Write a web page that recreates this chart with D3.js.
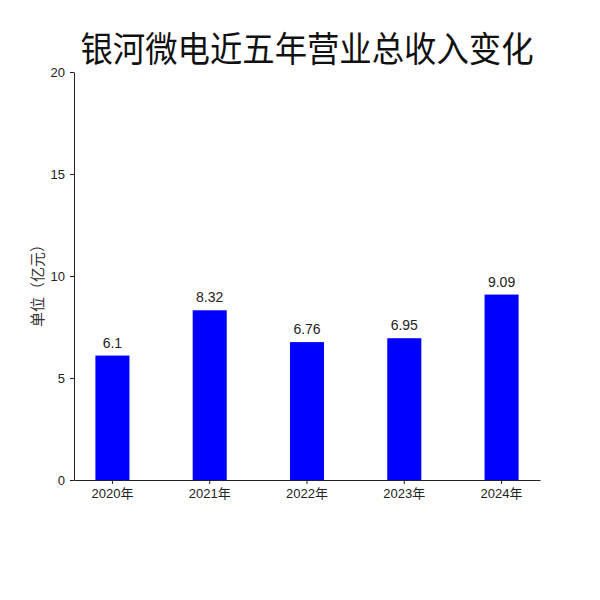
<!DOCTYPE html>
<html>
<head>
<meta charset="utf-8">
<script src="https://cdn.jsdelivr.net/npm/d3@7"></script>
<style>
  body { margin: 0; background: #fff; }
  .tick text { font-family: "Liberation Sans", "Noto Sans CJK SC", sans-serif; fill: #222; }
</style>
</head>
<body>
<script>
// data
const YEARS = ['2020年', '2021年', '2022年', '2023年', '2024年']
const REVENUE = [6.1, 8.32, 6.76, 6.95, 9.09]
const Y_TICKS = [0, 5, 10, 15, 20]

const W = 600, H = 600
const MARGIN = {top: 72, bottom: 120, left: 74, right: 60}

const svg = d3.select('body').append('svg')
  .attr('width', W)
  .attr('height', H)

const x = d3.scaleBand()
  .domain(YEARS)
  .range([MARGIN.left, W - MARGIN.right])
  .paddingInner(0.65)
  .paddingOuter(0.22)

const y = d3.scaleLinear()
  .domain([0, 20])
  .range([H - MARGIN.bottom, MARGIN.top])

// bars
svg.append('g')
  .selectAll('rect')
  .data(REVENUE)
  .join('rect')
    .attr('x', (d, i) => x(YEARS[i]))
    .attr('y', d => y(d))
    .attr('width', x.bandwidth())
    .attr('height', d => y(0) - y(d))
    .attr('fill', '#0000ff')

// value labels
svg.append('g')
  .selectAll('text')
  .data(REVENUE)
  .join('text')
    .attr('x', (d, i) => x(YEARS[i]) + x.bandwidth() / 2)
    .attr('y', d => y(d) - 8)
    .attr('text-anchor', 'middle')
    .style('font-family', '"Liberation Sans", sans-serif')
    .style('font-size', '14px')
    .style('fill', '#222')
    .text(d => d)

// axes
const gx = svg.append('g')
  .attr('transform', `translate(0, ${y(0)})`)
  .call(d3.axisBottom(x).tickSize(4).tickSizeOuter(0).tickPadding(5))
gx.selectAll('text').style('font-size', '13px')

const gy = svg.append('g')
  .attr('transform', `translate(${MARGIN.left}, 0)`)
  .call(d3.axisLeft(y).tickValues(Y_TICKS).tickSize(4).tickSizeOuter(0).tickPadding(5))
gy.selectAll('text').style('font-size', '13px')

svg.selectAll('.domain, .tick line').attr('stroke', '#222')

// y label
svg.append('text')
  .attr('transform', `translate(43, ${(y(0) + y(20)) / 2 + 6}) rotate(-90)`)
  .attr('text-anchor', 'middle')
  .style('font-family', '"Noto Sans CJK SC", sans-serif')
  .style('font-size', '15px')
  .style('fill', '#333')
  .text('单位（亿元）')

// title
svg.append('text')
  .attr('x', 307)
  .attr('y', 62)
  .attr('text-anchor', 'middle')
  .attr('textLength', 453)
  .attr('lengthAdjust', 'spacingAndGlyphs')
  .style('font-family', '"Noto Sans CJK SC", sans-serif')
  .style('font-size', '35px')
  .style('fill', '#111')
  .text('银河微电近五年营业总收入变化')
</script>
</body>
</html>
